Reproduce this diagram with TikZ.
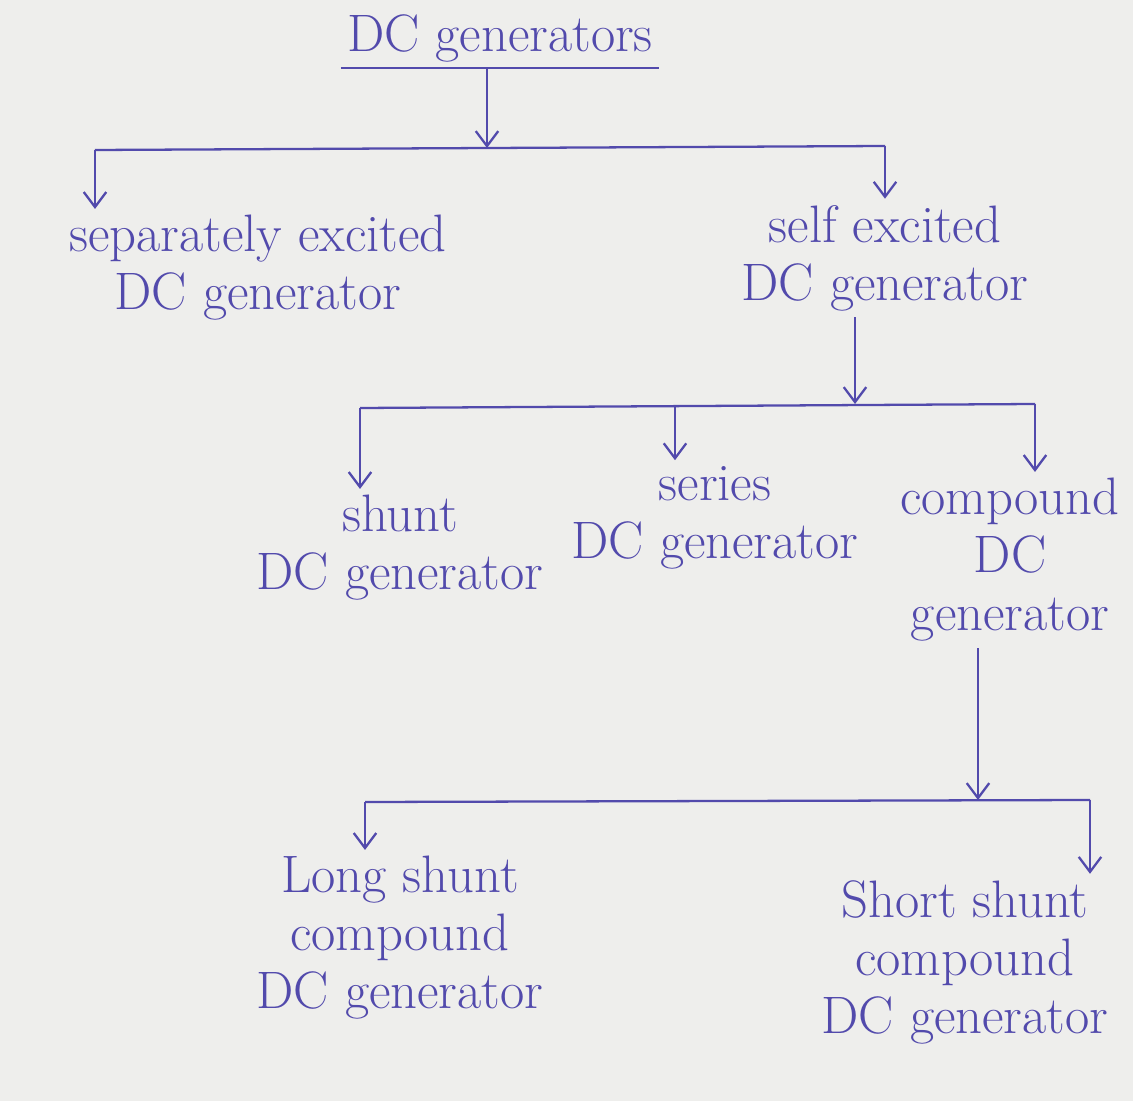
\documentclass[tikz,border=0pt]{standalone}
\usepackage{xcolor}
\usetikzlibrary{arrows.meta}
\definecolor{ink}{RGB}{82,74,172}
\definecolor{paper}{RGB}{238,238,236}
\begin{document}
\begin{tikzpicture}[x=0.02cm, y=-0.02cm, line width=1.3pt, draw=ink,
    every node/.style={text=ink, font=\fontsize{30}{33}\selectfont, align=center, inner sep=3pt},
    down/.style={draw=ink, -{Straight Barb[length=3mm,width=4.5mm]}, line width=1.3pt}]
    \fill[paper] (0,0) rectangle (1133,1101);
    \useasboundingbox (0,0) rectangle (1133,1101);
    % Nodos (tipos de generador)
    \node (dc) at (500,38) {DC generators};
    \node (sep) at (258,268) {separately excited\\DC generator};
    \node (self) at (885,258) {self excited\\DC generator};
    \node (shunt) at (400,548) {shunt\\DC generator};
    \node (series) at (715,518) {series\\DC generator};
    \node (comp) at (1010,560) {compound\\DC\\generator};
    \node (long) at (400,938) {Long shunt\\compound\\DC generator};
    \node (short) at (965,962) {Short shunt\\compound\\DC generator};
    % Puntos de las barras
    \coordinate (t1) at (487,148);
    \coordinate (l1) at (95,150);
    \coordinate (r1) at (885,146);
    \coordinate (t2) at (855,404);
    \coordinate (l2) at (360,408);
    \coordinate (m2) at (675,406);
    \coordinate (r2) at (1035,404);
    \coordinate (t3) at (978,800);
    \coordinate (l3) at (365,802);
    \coordinate (r3) at (1090,800);
    % Enlaces
    \draw (dc.south west) -- (dc.south east);
    \draw[down] (t1 |- dc.south) -- (t1);
    \draw (l1) -- (r1);
    \draw[down] (l1) -- (l1 |- sep.north);
    \draw[down] (r1) -- (r1 |- self.north);
    \draw[down] (t2 |- self.south) -- (t2);
    \draw (l2) -- (r2);
    \draw[down] (l2) -- (l2 |- shunt.north);
    \draw[down] (m2) -- (m2 |- series.north);
    \draw[down] (r2) -- (r2 |- comp.north);
    \draw[down] (t3 |- comp.south) -- (t3);
    \draw (l3) -- (r3);
    \draw[down] (l3) -- (l3 |- long.north);
    \draw[down] (r3) -- (r3 |- short.north);
\end{tikzpicture}
\end{document}
